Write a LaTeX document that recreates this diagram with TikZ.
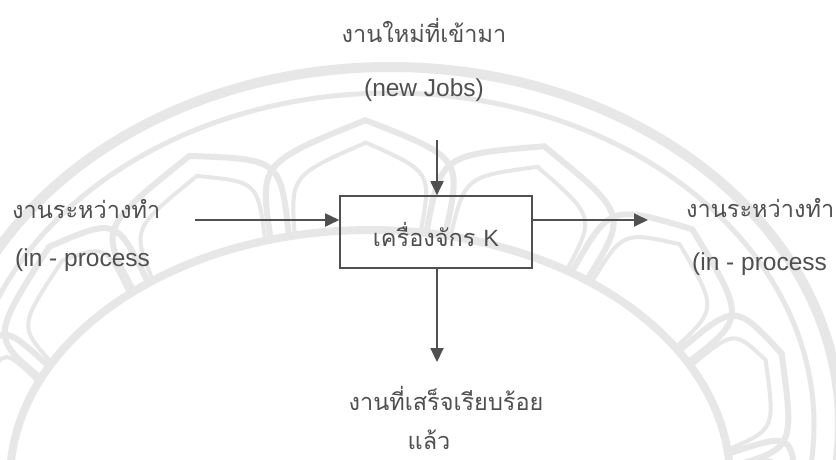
\documentclass[tikz,border=0pt]{standalone}
\usepackage{fontspec}
\setmainfont{Liberation Sans}
\newfontfamily\thaifont[Script=Thai]{Loma}
\usetikzlibrary{arrows.meta}
\definecolor{ink}{HTML}{505050}
\definecolor{txt}{HTML}{505050}
\definecolor{mark}{HTML}{E7E7E7}
\begin{document}
\begin{tikzpicture}[x=1pt,y=-1pt,
  lbl/.style={text=txt,font=\fontsize{23.5}{26}\selectfont\thaifont,inner sep=0pt},
  lat/.style={text=txt,font=\fontsize{24.5}{28}\selectfont,inner sep=0pt},
  flow/.style={draw=ink,line width=1.8pt,-{Triangle[length=14pt,width=13pt]}},
  machine/.style={draw=ink,line width=1.6pt,minimum width=192pt,minimum height=72pt,inner sep=0pt},
  band/.style={draw=mark,line width=#1},
  band/.default=6pt]
\useasboundingbox[fill=white] (0,0) rectangle (836,459);

% faint emblem in the background
\begin{scope}
  \clip (0,0) rectangle (836,459);
  \draw[band=10pt] (390,425) ellipse[x radius=450,y radius=358];
  \draw[band=5pt] (390,425) ellipse[x radius=424,y radius=332];
  \draw[band=8pt] (370,480) ellipse[x radius=360,y radius=250];
  % lotus petals with a double outline
  \foreach \t in {-33,-8,17,42,67,92,117,142,167,192,217} {
    \pgfmathsetmacro{\w}{14}
    \foreach \s/\lw in {1/6pt,0.72/4pt} {
      \pgfmathsetmacro{\ax}{370+360*cos(\t-\w*\s)}
      \pgfmathsetmacro{\ay}{480-250*sin(\t-\w*\s)}
      \pgfmathsetmacro{\bx}{370+360*cos(\t+\w*\s)}
      \pgfmathsetmacro{\by}{480-250*sin(\t+\w*\s)}
      \pgfmathsetmacro{\px}{375+(360+(420-360)*\s)*cos(\t-\w*\s)}
      \pgfmathsetmacro{\py}{465-(250+(330-250)*0.8*\s)*sin(\t-\w*\s)}
      \pgfmathsetmacro{\qx}{375+(360+(420-360)*\s)*cos(\t+\w*\s)}
      \pgfmathsetmacro{\qy}{465-(250+(330-250)*0.8*\s)*sin(\t+\w*\s)}
      \pgfmathsetmacro{\tx}{380+(360+(420-360)*\s)*cos(\t)}
      \pgfmathsetmacro{\ty}{450-(250+(330-250)*\s)*sin(\t)}
      \draw[band=\lw,line join=miter] (\ax,\ay) .. controls (\px,\py) .. (\tx,\ty)
        .. controls (\qx,\qy) .. (\bx,\by);
    }
  }
\end{scope}

% machine block
\node[machine] (m) at (436,232) {};
\node[lbl] (mt) at (436,234) {เครื่องจักร {\fontspec{Liberation Sans}K}};

% incoming new jobs
\node[lbl] (nj) at (424,30) {งานใหม่ที่เข้ามา};
\node[lat] (nje) at (424,90) {(new Jobs)};
\coordinate (ntop) at (437,140);
\draw[flow] (ntop) -- (m.north -| ntop);

% work in process, left side
\node[lbl,anchor=west] (wl) at (12,209) {งานระหว่างทำ};
\node[lat,anchor=west] (wle) at (15,260) {(in - process};
\coordinate (lin) at (195,220);
\draw[flow] (lin) -- (m.west |- lin);

% work in process, right side
\node[lbl,anchor=west] (wr) at (686,208) {งานระหว่างทำ};
\node[lat,anchor=west] (wre) at (692,264) {(in - process};
\coordinate (rout) at (648,220);
\draw[flow] (m.east |- rout) -- (rout);

% finished jobs
\coordinate (dout) at (437,362);
\draw[flow] (m.south -| dout) -- (dout);
\node[lbl] (fin) at (446,398) {งานที่เสร็จเรียบร้อย};
\node[lbl] (fin2) at (429,440) {แล้ว};
\end{tikzpicture}
\end{document}
